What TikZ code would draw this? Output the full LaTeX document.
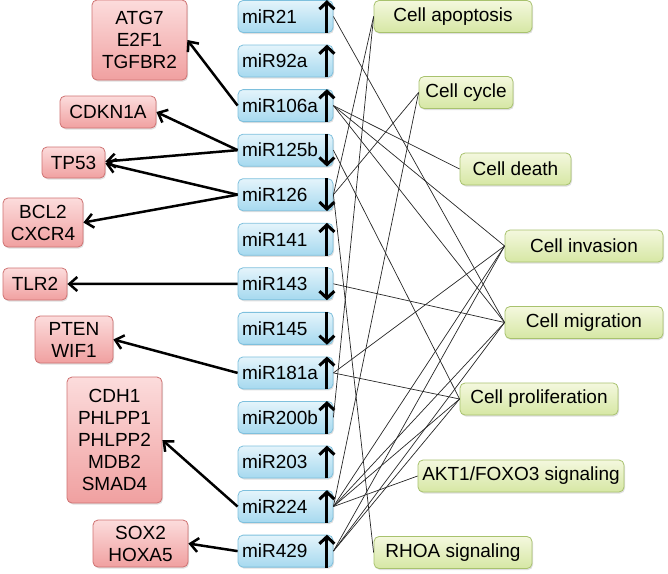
\documentclass[tikz,border=0pt]{standalone}
\usepackage{fontspec}
\setmainfont{Liberation Sans}
\usetikzlibrary{arrows.meta,shadows}
\definecolor{pinkT}{HTML}{FCDCDC}
\definecolor{pinkB}{HTML}{F0A0A0}
\definecolor{pinkD}{HTML}{CF7272}
\definecolor{blueT}{HTML}{E4F4FB}
\definecolor{blueB}{HTML}{A6D9EF}
\definecolor{blueD}{HTML}{7EC0DD}
\definecolor{greenT}{HTML}{F4F8DE}
\definecolor{greenB}{HTML}{D6E7A4}
\definecolor{greenD}{HTML}{A8C26E}
\begin{document}
\begin{tikzpicture}[x=1pt,y=-1pt,
  every node/.style={font=\fontsize{19}{22}\selectfont},
  box/.style={rounded corners=5pt, line width=0.8pt,
    drop shadow={opacity=0.25,shadow xshift=1pt,shadow yshift=-1.5pt}},
  gene/.style={box, draw=pinkD, top color=pinkT, bottom color=pinkB, inner sep=0pt, align=center},
  mir/.style={box, draw=blueD, top color=blueT, bottom color=blueB,
    minimum height=32pt, text width=87pt, align=left, inner xsep=4pt, inner ysep=0pt},
  proc/.style={box, draw=greenD, top color=greenT, bottom color=greenB,
    minimum height=32pt, inner sep=0pt, align=center},
  uparr/.style={line width=3pt, -{Straight Barb[length=7pt,width=15pt,line width=3pt]}},
  genearr/.style={line width=2.5pt, -{Straight Barb[length=8pt,width=14pt]}},
  link/.style={line width=0.7pt, black!85}
]
\useasboundingbox (0,0) rectangle (668,573);

% miRNA column
\node[mir] (m1)  at (285.5,16.5)  {miR21};
\node[mir] (m2)  at (285.5,61.05) {miR92a};
\node[mir] (m3)  at (285.5,105.6) {miR106a};
\node[mir] (m4)  at (285.5,150.15) {miR125b};
\node[mir] (m5)  at (285.5,194.7) {miR126};
\node[mir] (m6)  at (285.5,239.25) {miR141};
\node[mir] (m7)  at (285.5,283.8) {miR143};
\node[mir] (m8)  at (285.5,328.35) {miR145};
\node[mir] (m9)  at (285.5,372.9) {miR181a};
\node[mir] (m10) at (285.5,417.45) {miR200b};
\node[mir] (m11) at (285.5,462) {miR203};
\node[mir] (m12) at (285.5,506.55) {miR224};
\node[mir] (m13) at (285.5,551.1) {miR429};

% up / down arrows
\foreach \m in {m1,m2,m3,m6,m9,m10,m11,m12,m13}
  \draw[uparr] ([xshift=-6.5pt]\m.south east) -- ([xshift=-6.5pt]\m.north east);
\foreach \m in {m4,m5,m7,m8}
  \draw[uparr] ([xshift=-6.5pt]\m.north east) -- ([xshift=-6.5pt]\m.south east);

% target genes
\node[gene, minimum width=95pt, minimum height=80pt] (t1) at (139.5,40) {ATG7\\E2F1\\TGFBR2};
\node[gene, minimum width=96pt, minimum height=32pt] (t2) at (108,112) {CDKN1A};
\node[gene, minimum width=63pt, minimum height=31pt] (t3) at (73.5,162.5) {TP53};
\node[gene, minimum width=80pt, minimum height=49pt] (t4) at (43,222.5) {BCL2\\CXCR4};
\node[gene, minimum width=64pt, minimum height=32pt] (t5) at (35,284) {TLR2};
\node[gene, minimum width=78pt, minimum height=47pt] (t6) at (74,339.5) {PTEN\\WIF1};
\node[gene, minimum width=95pt, minimum height=126pt] (t7) at (114.5,440) {CDH1\\PHLPP1\\PHLPP2\\MDB2\\SMAD4};
\node[gene, minimum width=95pt, minimum height=47pt] (t8) at (140.5,543.5) {SOX2\\HOXA5};

% processes
\node[proc, minimum width=158pt] (p1) at (453,16.5) {Cell apoptosis};
\node[proc, minimum width=94pt]  (p2) at (466,92.5) {Cell cycle};
\node[proc, minimum width=111pt] (p3) at (515.5,169) {Cell death};
\node[proc, minimum width=158pt] (p4) at (584,246) {Cell invasion};
\node[proc, minimum width=158pt] (p5) at (584,322.5) {Cell migration};
\node[proc, minimum width=158pt] (p6) at (539,399) {Cell proliferation};
\node[proc, minimum width=206pt] (p7) at (521,476) {AKT1/FOXO3 signaling};
\node[proc, minimum width=158pt] (p8) at (453,552.5) {RHOA signaling};

% gene arrows
\draw[genearr] (m3.west) -- (t1.east);
\draw[genearr] (m4.west) -- (t2.east);
\draw[genearr] (m4.west) -- ([yshift=1pt]t3.east);
\draw[genearr] (m5.west) -- ([yshift=-1pt]t3.east);
\draw[genearr] (m5.west) -- (t4.east);
\draw[genearr] (m7.west) -- (t5.east);
\draw[genearr] (m9.west) -- (t6.east);
\draw[genearr] (m12.west) -- (t7.east);
\draw[genearr] (m13.west) -- (t8.east);

% links to processes
\draw[link] (m1.east) -- (p5.west);
\draw[link] (m3.east) -- (p3.west);
\draw[link] (m3.east) -- (p4.west);
\draw[link] (m3.east) -- (p5.west);
\draw[link] (m4.east) -- (p6.west);
\draw[link] (m5.east) -- (p1.west);
\draw[link] (m5.east) -- (p2.west);
\draw[link] (m5.east) -- (p8.west);
\draw[link] (m7.east) -- (p5.west);
\draw[link] (m9.east) -- (p4.west);
\draw[link] (m9.east) -- (p6.west);
\draw[link] (m10.east) -- (p1.west);
\draw[link] (m12.east) -- (p2.west);
\draw[link] (m12.east) -- (p4.west);
\draw[link] (m12.east) -- (p5.west);
\draw[link] (m12.east) -- (p6.west);
\draw[link] (m12.east) -- (p7.west);
\draw[link] (m13.east) -- (p4.west);
\draw[link] (m13.east) -- (p5.west);
\draw[link] (m13.east) -- (p6.west);
\end{tikzpicture}
\end{document}
